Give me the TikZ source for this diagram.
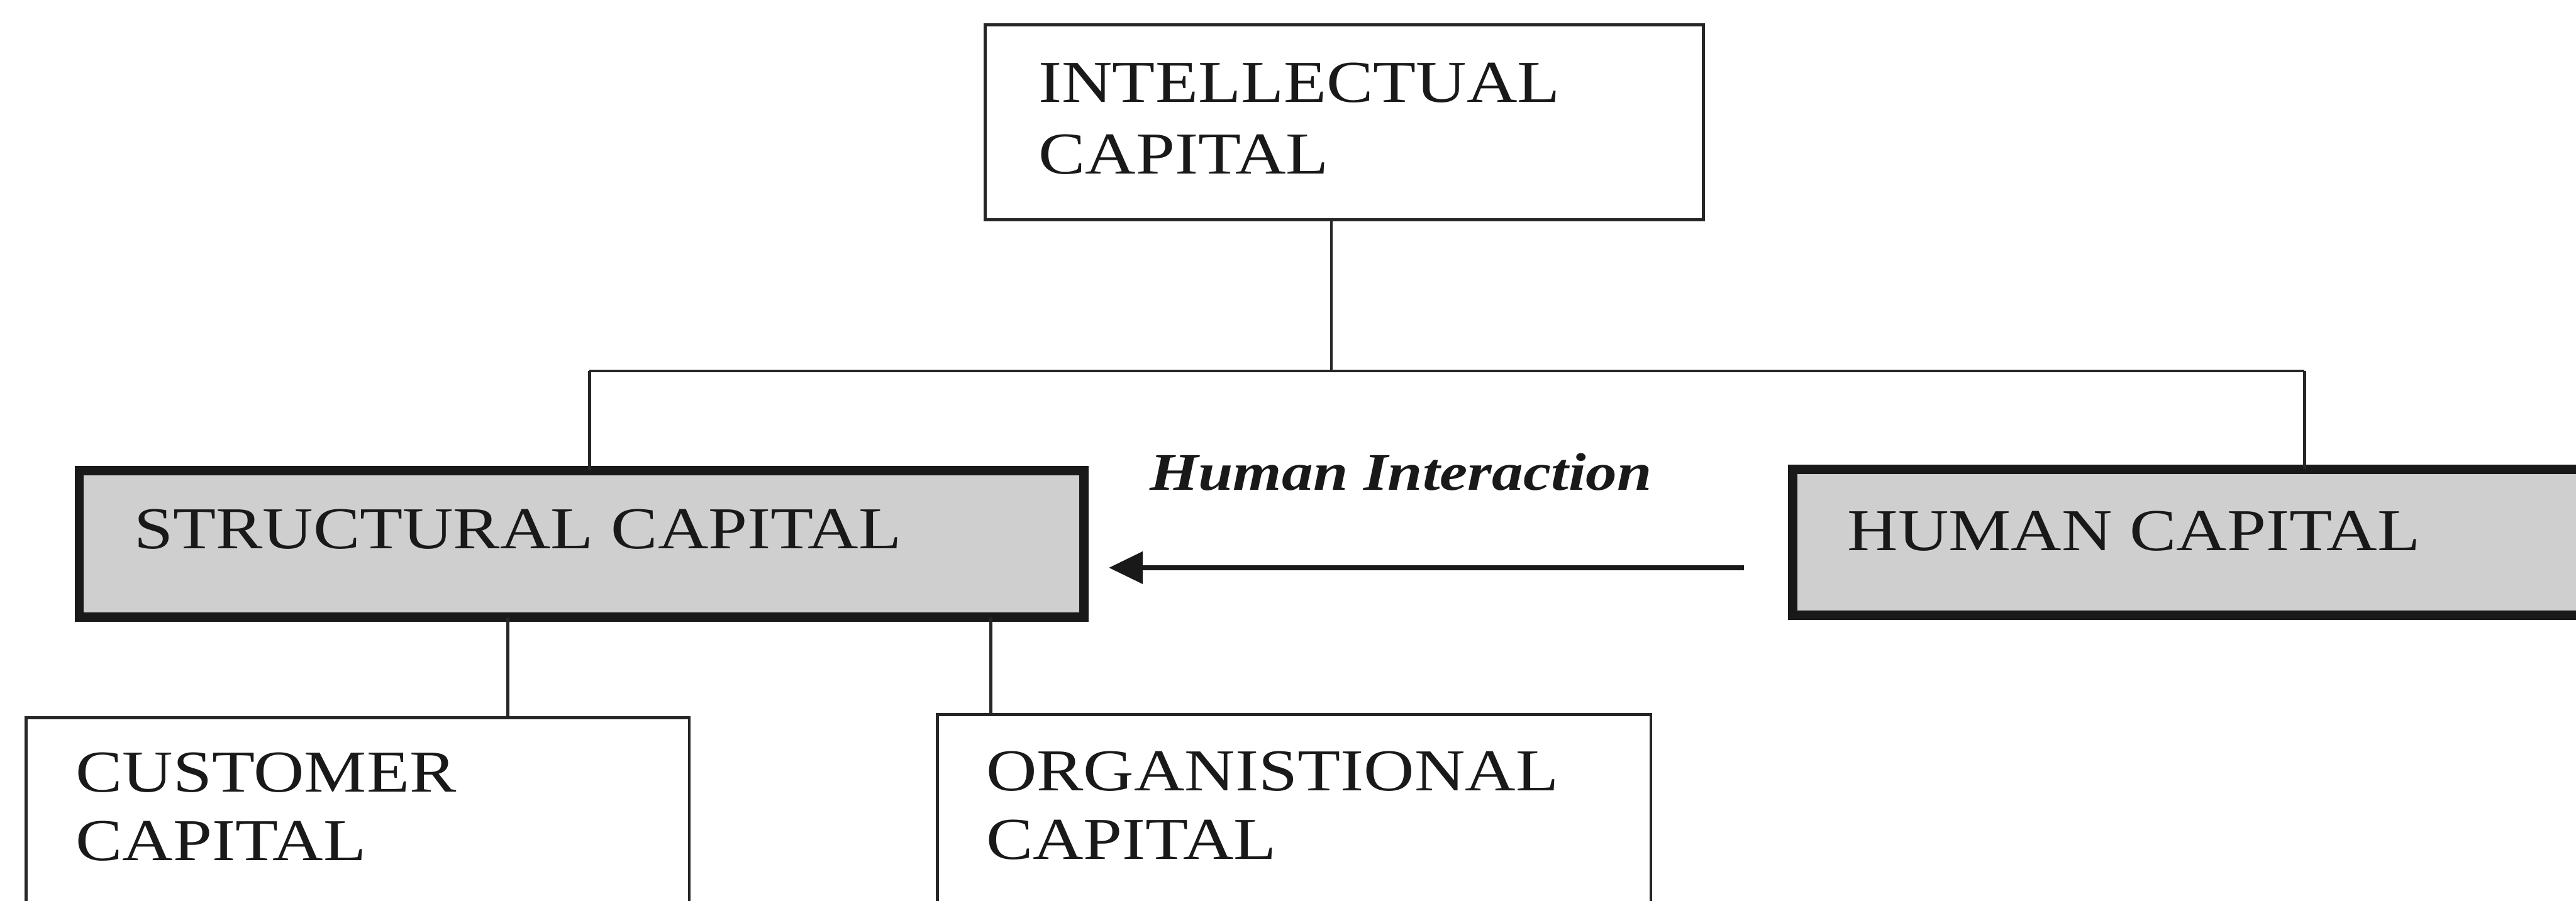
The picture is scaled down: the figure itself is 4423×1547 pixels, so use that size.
\documentclass[tikz,border=0pt]{standalone}
\usepackage{fontspec}
\setmainfont{Liberation Serif}[FakeStretch=1.18]
\usetikzlibrary{arrows.meta}
\definecolor{boxgray}{gray}{0.81}
\begin{document}
\begin{tikzpicture}[x=1pt,y=-1pt,
  thinbox/.style={draw=black!85, line width=5pt, inner sep=0pt, outer sep=0pt, fill=white},
  thickbox/.style={draw=black!90, line width=16pt, inner sep=0pt, outer sep=0pt, fill=boxgray},
  conn/.style={draw=black!85, line width=5pt},
  arrowline/.style={draw=black!90, line width=8pt, -{Triangle[length=58pt,width=54pt]}},
  lbl/.style={anchor=base west, inner sep=0pt, font=\fontsize{102}{120}\selectfont, text=black!90},
  ilbl/.style={anchor=base west, inner sep=0pt, font=\fontsize{91}{100}\selectfont\bfseries\itshape, text=black!90}
]
\useasboundingbox[fill=white] (0,0) rectangle (4423,1547);
\clip (0,0) rectangle (4423,1547);

% boxes
\node[thinbox, minimum width=1233pt, minimum height=335pt] (ic) at (2308,210) {};
\node[thickbox, minimum width=1725pt, minimum height=252pt] (sc) at (998.5,934) {};
\node[thickbox, minimum width=1522pt, minimum height=251pt] (hc) at (3839,931.5) {};
\node[thinbox, minimum width=1139pt, minimum height=467pt] (cc) at (614,1466) {};
\node[thinbox, minimum width=1225pt, minimum height=472pt] (oc) at (2222,1463.5) {};

% labels
\node[lbl] (ic1) at (1783,176) {INTELLECTUAL};
\node[lbl] (ic2) at (1783,299) {CAPITAL};
\node[lbl] (sct) at (230,942) {STRUCTURAL CAPITAL};
\node[lbl] (hct) at (3172,945) {HUMAN CAPITAL};
\node[lbl] (cc1) at (130,1360) {CUSTOMER};
\node[lbl] (cc2) at (130,1478) {CAPITAL};
\node[lbl] (oc1) at (1693,1358) {ORGANISTIONAL};
\node[lbl] (oc2) at (1693,1476) {CAPITAL};
\node[ilbl] (hi) at (1974,842) {Human Interaction};

% tree connectors
\coordinate (j) at (2286,637);
\coordinate (lj) at (1012,637);
\coordinate (rj) at (3957,637);
\coordinate (bl) at (872,0);
\coordinate (br) at (1701,0);
\draw[conn] (ic.south -| j) -- (j);
\draw[conn] (lj) -- (rj);
\draw[conn] (lj) -- (lj |- sc.north);
\draw[conn] (rj) -- (rj |- hc.north);
\draw[conn] (bl |- sc.south) -- (bl |- cc.north);
\draw[conn] (br |- sc.south) -- (br |- oc.north);

% human interaction arrow
\coordinate (as) at (2994,975);
\draw[arrowline, shorten >=43pt] (as) -- (as -| sc.east);
\end{tikzpicture}
\end{document}
